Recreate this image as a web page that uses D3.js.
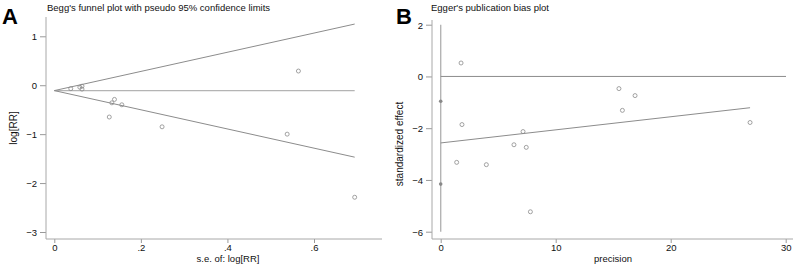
<!DOCTYPE html>
<html>
<head>
<meta charset="utf-8">
<script src="https://cdn.jsdelivr.net/npm/d3@7"></script>
<style>
  body { margin: 0; background: #fff; }
  svg { display: block; font-family: "Liberation Sans", Arial, sans-serif; }
  .tick text { font-size: 9.5px; fill: #111; }
  .tick line { stroke: #999; }
</style>
</head>
<body>
<svg id="chart" width="796" height="265"></svg>
<script>
// --- Begg's funnel plot data (se, log[RR]) ---
var beggSe    = [0.038, 0.059, 0.064, 0.064, 0.139, 0.133, 0.156, 0.127, 0.249, 0.564, 0.538, 0.694];
var beggLogRR = [-0.07, -0.04, -0.02, -0.08, -0.29, -0.36, -0.40, -0.65, -0.85, 0.29, -1.00, -2.29];
var beggTheta = -0.11;      // pooled estimate
var beggSeMax = 0.694;
var beggXTicks = [0, 0.2, 0.4, 0.6];
var beggYTicks = [-3, -2, -1, 0, 1];

// --- Egger's plot data (precision, standardized effect) ---
var eggerPrecision = [1.77, 1.85, 15.5, 16.9, 15.8, 26.9, 7.16, 6.37, 7.44, 1.39, 3.97, 7.8];
var eggerEffect    = [0.52, -1.86, -0.47, -0.74, -1.31, -1.78, -2.13, -2.64, -2.74, -3.32, -3.41, -5.23];
var eggerIntercept = -2.57;
var eggerSlope = 0.0506;
var eggerCI = [-0.96, -4.16];   // intercept confidence interval
var eggerXTicks = [0, 10, 20, 30];
var eggerYTicks = [-6, -4, -2, 0, 2];

var svg = d3.select('#chart');
var lineColor = '#8c8c8c';
var axisColor = '#a8a8a8';
var markColor = '#8a8a8a';

function fmtDot(d) {
	if (d === 0) return '0';
	return String(d).replace('0.', '.');
}

function drawAxes(g, x, y, xTicks, yTicks, xFmt, axisX0, axisX1, axisY0, axisY1) {
	var xa = g.append('g')
		.attr('transform', 'translate(0,' + axisY1 + ')')
		.call(d3.axisBottom(x).tickValues(xTicks).tickFormat(xFmt).tickSize(4).tickSizeOuter(0).tickPadding(1));
	xa.select('.domain').remove();
	var ya = g.append('g')
		.attr('transform', 'translate(' + axisX0 + ',0)')
		.call(d3.axisLeft(y).tickValues(yTicks).tickFormat(d3.format('d')).tickSize(6).tickSizeOuter(0).tickPadding(3));
	ya.select('.domain').remove();
	ya.selectAll('.tick text').attr('dy', '0.36em');
	g.append('line').attr('x1', axisX0).attr('x2', axisX1).attr('y1', axisY1).attr('y2', axisY1)
		.attr('stroke', axisColor);
	g.append('line').attr('x1', axisX0).attr('x2', axisX0).attr('y1', axisY0).attr('y2', axisY1)
		.attr('stroke', axisColor);
}

// ================= Panel A =================
var gA = svg.append('g');
var xA = d3.scaleLinear().domain([0, 0.6]).range([54.3, 314]);
var yA = d3.scaleLinear().domain([-3, 1]).range([232, 36.3]);

drawAxes(gA, xA, yA, beggXTicks, beggYTicks, fmtDot, 46, 382, 17, 239);

// pooled estimate line
gA.append('line')
	.attr('x1', xA(0)).attr('x2', xA(beggSeMax))
	.attr('y1', yA(beggTheta)).attr('y2', yA(beggTheta))
	.attr('stroke', '#b4b4b4').attr('stroke-width', 1.4);

// pseudo 95% limits
[1, -1].forEach(function(sign) {
	gA.append('line')
		.attr('x1', xA(0)).attr('y1', yA(beggTheta))
		.attr('x2', xA(beggSeMax)).attr('y2', yA(beggTheta + sign * 1.96 * beggSeMax))
		.attr('stroke', lineColor).attr('stroke-width', 1);
});

gA.append('g').selectAll('circle')
	.data(d3.range(beggSe.length))
	.enter().append('circle')
	.attr('cx', function(i) { return xA(beggSe[i]); })
	.attr('cy', function(i) { return yA(beggLogRR[i]); })
	.attr('r', 2)
	.attr('fill', 'none')
	.attr('stroke', markColor)
	.attr('stroke-width', 0.8);

gA.append('text').attr('x', 2).attr('y', 24)
	.attr('font-size', 22).attr('font-weight', 'bold').text('A');
gA.append('text').attr('x', 47).attr('y', 11)
	.attr('font-size', 9.5).attr('fill', '#111')
	.text("Begg's funnel plot with pseudo 95% confidence limits");
gA.append('text').attr('x', 228).attr('y', 262)
	.attr('text-anchor', 'middle').attr('font-size', 9.5).attr('fill', '#111')
	.text('s.e. of: log[RR]');
gA.append('text')
	.attr('transform', 'translate(17,128) rotate(-90)')
	.attr('text-anchor', 'middle').attr('font-size', 10).attr('fill', '#111')
	.text('log[RR]');

// ================= Panel B =================
var gB = svg.append('g');
var xB = d3.scaleLinear().domain([0, 30]).range([440.7, 785.7]);
var yB = d3.scaleLinear().domain([-6, 2]).range([231.7, 24.7]);

drawAxes(gB, xB, yB, eggerXTicks, eggerYTicks, d3.format('d'), 432, 793, 20, 239);

// vertical line at precision 0
gB.append('line')
	.attr('x1', xB(0)).attr('x2', xB(0))
	.attr('y1', yB(2)).attr('y2', yB(-6))
	.attr('stroke', '#b4b4b4').attr('stroke-width', 1.4);
// zero effect line
gB.append('line')
	.attr('x1', xB(0)).attr('x2', 786)
	.attr('y1', yB(0)).attr('y2', yB(0))
	.attr('stroke', lineColor).attr('stroke-width', 1);
// regression line
var maxPrec = d3.max(eggerPrecision);
gB.append('line')
	.attr('x1', xB(0)).attr('y1', yB(eggerIntercept))
	.attr('x2', xB(maxPrec)).attr('y2', yB(eggerIntercept + eggerSlope * maxPrec))
	.attr('stroke', lineColor).attr('stroke-width', 1);

gB.append('g').selectAll('circle')
	.data(d3.range(eggerPrecision.length))
	.enter().append('circle')
	.attr('cx', function(i) { return xB(eggerPrecision[i]); })
	.attr('cy', function(i) { return yB(eggerEffect[i]); })
	.attr('r', 2)
	.attr('fill', 'none')
	.attr('stroke', markColor)
	.attr('stroke-width', 0.8);

// CI end markers
gB.append('g').selectAll('circle')
	.data(eggerCI)
	.enter().append('circle')
	.attr('cx', xB(0))
	.attr('cy', function(d) { return yB(d); })
	.attr('r', 1.8)
	.attr('fill', '#888');

gB.append('text').attr('x', 396).attr('y', 24)
	.attr('font-size', 22).attr('font-weight', 'bold').text('B');
gB.append('text').attr('x', 431).attr('y', 11)
	.attr('font-size', 9.5).attr('fill', '#111')
	.text("Egger's publication bias plot");
gB.append('text').attr('x', 613).attr('y', 262)
	.attr('text-anchor', 'middle').attr('font-size', 9.5).attr('fill', '#111')
	.text('precision');
gB.append('text')
	.attr('transform', 'translate(403,144) rotate(-90)')
	.attr('text-anchor', 'middle').attr('font-size', 10).attr('fill', '#111')
	.text('standardized effect');
</script>
</body>
</html>
